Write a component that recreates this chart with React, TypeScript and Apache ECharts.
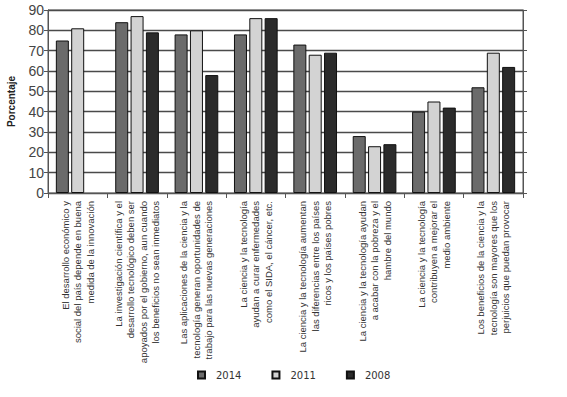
import React, { useEffect, useRef } from "react";
import * as echarts from "echarts";

const categories = [
  "El desarrollo económico y\nsocial del país depende en buena\nmedida de la innovación",
  "La investigación científica y el\ndesarrollo tecnológico deben ser\napoyados por el gobierno, aun cuando\nlos beneficios no sean inmediatos",
  "Las aplicaciones de la ciencia y la\ntecnología generan oportunidades de\ntrabajo para las nuevas generaciones",
  "La ciencia y la tecnología\nayudan a curar enfermedades\ncomo el SIDA, el cáncer, etc.",
  "La ciencia y la tecnología aumentan\nlas diferencias entre los países\nricos y los países pobres",
  "La ciencia y la tecnología ayudan\na acabar con la pobreza y el\nhambre del mundo",
  "La ciencia y la tecnología\ncontribuyen a mejorar el\nmedio ambiente",
  "Los beneficios de la ciencia y la\ntecnología son mayores que los\nperjuicios que puedan provocar",
];
const years = ["2014", "2011", "2008"];
const values2014 = [75, 84, 78, 78, 73, 28, 40, 52];
const values2011 = [81, 87, 80, 86, 68, 23, 45, 69];
const values2008 = [null, 79, 58, 86, 69, 24, 42, 62];
const yTicks = { min: 0, max: 90, interval: 10 };

export default function App() {
  const ref = useRef<HTMLDivElement>(null);
  useEffect(() => {
    if (!ref.current) return;
    const chart = echarts.init(ref.current, null, { renderer: "svg" });
    const colors = ["#6b6b6b", "#d3d3d3", "#2b2b2b"];
    const data = [values2014, values2011, values2008];
    chart.setOption({
      animation: false,
      backgroundColor: "#ffffff",
      grid: {
        left: 48,
        right: 44,
        top: 10,
        bottom: 204,
        outerBoundsMode: "none",
        containLabel: false,
        show: true,
        borderColor: "#555",
        borderWidth: 1,
      },
      legend: {
        data: years,
        bottom: 12,
        left: 192,
        itemWidth: 7,
        itemHeight: 7,
        itemGap: 30,
        icon: "rect",
        textStyle: { fontFamily: "DejaVu Sans", fontSize: 10, color: "#333", padding: [0, 0, 0, 6] },
      },
      xAxis: {
        type: "category",
        data: categories,
        axisLine: { lineStyle: { color: "#555", width: 1 } },
        axisTick: { show: true, alignWithLabel: false, length: 5, lineStyle: { color: "#555" } },
        axisLabel: {
          interval: 0,
          rotate: 90,
          fontFamily: "Liberation Sans Narrow, Liberation Sans, sans-serif",
          fontSize: 9.5,
          lineHeight: 12.5,
          color: "#333",
          margin: 8,
        },
      },
      yAxis: [
        {
          type: "value",
          ...yTicks,
          name: "Porcentaje",
          nameLocation: "middle",
          nameRotate: 90,
          nameGap: 32,
          nameTextStyle: { fontFamily: "Liberation Sans", fontWeight: "bold", fontSize: 10, color: "#222" },
          axisLine: { show: true, lineStyle: { color: "#555" } },
          axisTick: { show: true, length: 4, lineStyle: { color: "#555" } },
          axisLabel: { fontFamily: "Liberation Sans", fontSize: 14, color: "#444", margin: 4 },
          splitLine: { show: true, lineStyle: { color: "#4a4a4a", width: 1.3 } },
        },
        {
          type: "value",
          ...yTicks,
          position: "right",
          axisLine: { show: true, lineStyle: { color: "#555" } },
          axisTick: { show: true, length: 4, lineStyle: { color: "#555" } },
          axisLabel: { show: false },
          splitLine: { show: false },
        },
      ],
      series: years.map((y, i) => ({
        name: y,
        type: "bar",
        data: data[i],
        barWidth: 13,
        barGap: "18%",
        itemStyle: { color: colors[i], borderColor: "#111", borderWidth: 1 },
      })),
    });
    return () => chart.dispose();
  }, []);
  return (
    <div
      ref={ref}
      style={{ position: "absolute", left: 0, top: 0, width: 567, height: 397 }}
    />
  );
}
